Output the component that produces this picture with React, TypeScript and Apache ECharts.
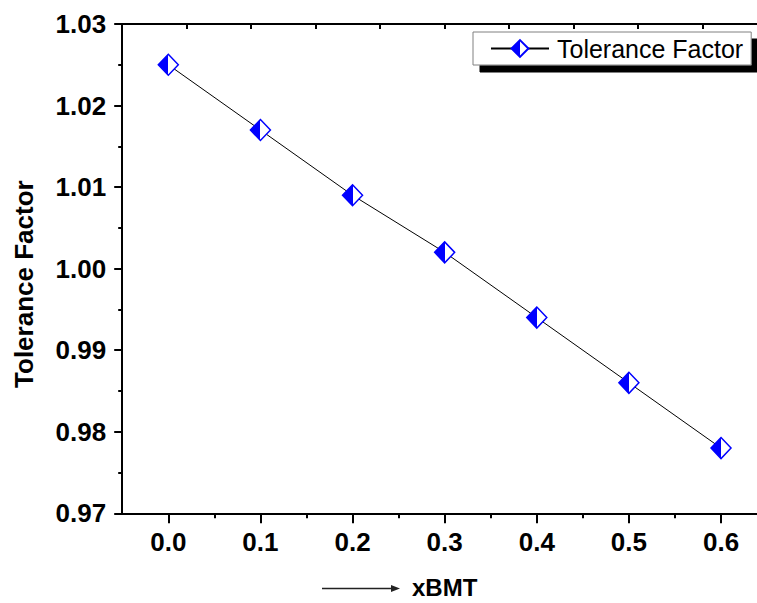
import React, { useEffect, useRef } from 'react';
import * as echarts from 'echarts';

const xValues = [0, 0.1, 0.2, 0.3, 0.4, 0.5, 0.6];
const toleranceFactor = [1.025, 1.017, 1.009, 1.002, 0.994, 0.986, 0.978];
const seriesName = 'Tolerance Factor';
const xAxisName = 'xBMT';
const yAxisName = 'Tolerance Factor';

const FONT = 'Arial, "Liberation Sans", sans-serif';

export default function App() {
  const ref = useRef<HTMLDivElement>(null);
  useEffect(() => {
    const chart = echarts.init(ref.current!, null, { renderer: 'svg' });
    const halfFill = {
      type: 'linear', x: 0, y: 0, x2: 1, y2: 0,
      colorStops: [
        { offset: 0, color: '#0000ff' },
        { offset: 0.5, color: '#0000ff' },
        { offset: 0.5, color: '#ffffff' },
        { offset: 1, color: '#ffffff' },
      ],
    };
    const W = 757, H = 603;
    const TOP = 24;
    const BOTTOM = H - 513.3;
    const X0 = 168.3;
    const PX = 921.2;
    const LEFT = 122.2;
    const axisLineStyle = { color: '#000', width: 2 };
    chart.setOption({
      animation: false,
      backgroundColor: '#ffffff',
      textStyle: { fontFamily: FONT },
      grid: [
        { left: X0, right: W - (X0 + 0.7 * PX), top: TOP, bottom: BOTTOM, containLabel: false, outerBoundsMode: 'none' },
        { left: LEFT, right: W - (X0 + 0.65 * PX), top: TOP, bottom: BOTTOM, containLabel: false, outerBoundsMode: 'none' },
      ],
      legend: {
        show: true,
        data: [seriesName],
        left: 473,
        top: 32,
        padding: [4, 8, 4, 17],
        itemWidth: 58,
        itemHeight: 21,
        textStyle: { fontSize: 25, color: '#000', fontFamily: FONT, padding: [0, 0, 0, 3] },
        backgroundColor: '#ffffff',
        borderColor: '#808080',
        borderWidth: 1,
        shadowColor: '#000',
        shadowOffsetX: 7,
        shadowOffsetY: 7,
        shadowBlur: 0,
        selectedMode: false,
      },
      xAxis: [
        {
          gridIndex: 0, type: 'value', min: 0, max: 0.7, interval: 0.1,
          axisLine: { show: false, onZero: false },
          axisTick: { show: true, length: 10, lineStyle: axisLineStyle },
          minorTick: { show: true, splitNumber: 2, length: 5, lineStyle: axisLineStyle },
          splitLine: { show: false },
          axisLabel: {
            margin: 16, fontSize: 26, fontWeight: 'bold', color: '#000', fontFamily: FONT,
            formatter: (v: number) => (v > 0.61 ? '' : v.toFixed(1)),
          },
        },
        {
          gridIndex: 1, type: 'value', position: 'bottom', min: -0.05, max: 0.65,
          axisLine: { show: true, onZero: false, lineStyle: axisLineStyle },
          axisTick: { show: false },
          axisLabel: { show: false },
          splitLine: { show: false },
          name: xAxisName,
          nameLocation: 'middle',
          nameGap: 63,
          nameTextStyle: { fontSize: 24, lineHeight: 22, fontWeight: 'bold', color: '#000', fontFamily: FONT },
        },
        {
          gridIndex: 1, type: 'value', position: 'top', min: 0, max: 10, interval: 1,
          axisLine: { show: true, onZero: false, lineStyle: axisLineStyle },
          axisTick: { show: true, inside: true, length: 5, lineStyle: axisLineStyle },
          axisLabel: { show: false },
          splitLine: { show: false },
        },
      ],
      yAxis: [
        {
          gridIndex: 0, type: 'value', min: 0.97, max: 1.03, show: false,
          axisLine: { onZero: false },
        },
        {
          gridIndex: 1, type: 'value', min: 0.97, max: 1.03, interval: 0.01,
          axisLine: { show: true, onZero: false, lineStyle: axisLineStyle },
          axisTick: { show: true, length: 8, lineStyle: axisLineStyle },
          minorTick: { show: true, splitNumber: 2, length: 4, lineStyle: axisLineStyle },
          splitLine: { show: false },
          axisLabel: {
            margin: 16, fontSize: 26, fontWeight: 'bold', color: '#000', fontFamily: FONT,
            formatter: (v: number) => v.toFixed(2),
          },
          name: yAxisName,
          nameLocation: 'middle',
          nameGap: 85,
          nameTextStyle: {
            fontSize: 26, fontWeight: 'bold', color: '#000', fontFamily: FONT,
            padding: [0, 31, 0, 0],
          },
        },
      ],
      graphic: [
        {
          type: 'line',
          shape: { x1: 322, y1: 588.5, x2: 393, y2: 588.5 },
          style: { stroke: '#222', lineWidth: 1.5 },
          silent: true,
        },
        {
          type: 'polygon',
          shape: { points: [[391, 585], [400, 588.5], [391, 592]] },
          style: { fill: '#222' },
          silent: true,
        },
      ],
      series: [
        {
          name: seriesName,
          type: 'line',
          xAxisIndex: 0,
          yAxisIndex: 0,
          data: xValues.map((x, i) => [x, toleranceFactor[i]]),
          symbol: 'diamond',
          symbolSize: [20, 21],
          itemStyle: { color: halfFill, borderColor: '#0000ff', borderWidth: 1.5 },
          lineStyle: { color: '#000', width: 1 },
          emphasis: { disabled: true },
          z: 3,
        },
      ],
    });
    return () => chart.dispose();
  }, []);
  return (
    <div
      ref={ref}
      style={{ position: 'fixed', left: 0, top: 0, width: 757, height: 603, overflow: 'hidden' }}
    />
  );
}
